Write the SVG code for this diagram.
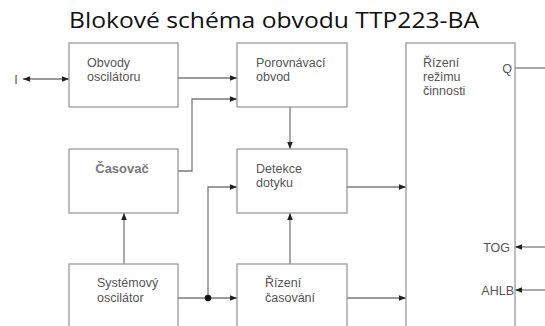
<svg xmlns="http://www.w3.org/2000/svg" width="545" height="326" viewBox="0 0 545 326">
<defs>
<style>
.box{fill:#fff;stroke:#9a9a9a;stroke-width:1.3}
.ln{fill:none;stroke:#7a7a7a;stroke-width:1.3}
.t{font-family:"Liberation Sans",Arial,sans-serif;font-size:12.5px;fill:#555}
.title{font-family:"Open Sans","Noto Sans",sans-serif;font-size:22.5px;fill:#111}
</style>
<marker id="ar" viewBox="0 0 10 10" refX="10" refY="5" markerWidth="7" markerHeight="7" markerUnits="userSpaceOnUse" orient="auto-start-reverse">
<path d="M0,1 L10,5 L0,9 z" fill="#222"/>
</marker>
</defs>
<rect width="545" height="326" fill="#fff"/>
<text class="title" x="274" y="28" text-anchor="middle" textLength="410" lengthAdjust="spacingAndGlyphs">Blokové schéma obvodu TTP223-BA</text>

<g id="connectors">
<path class="ln" d="M23,79 H69" marker-start="url(#ar)" marker-end="url(#ar)"/>
<path class="ln" d="M178,78 H237" marker-end="url(#ar)"/>
<path class="ln" d="M178,171 H192 V99 H237" marker-end="url(#ar)"/>
<path class="ln" d="M290,107 V149" marker-end="url(#ar)"/>
<path class="ln" d="M347,187 H406" marker-end="url(#ar)"/>
<path class="ln" d="M208,298 V187 H237" marker-end="url(#ar)"/>
<path class="ln" d="M124,264 V213" marker-end="url(#ar)"/>
<path class="ln" d="M178,298 H237" marker-end="url(#ar)"/>
<path class="ln" d="M290,264 V213" marker-end="url(#ar)"/>
<path class="ln" d="M347,298 H406" marker-end="url(#ar)"/>
<path class="ln" d="M515,68 H545"/>
<path class="ln" d="M545,247 H515" marker-end="url(#ar)"/>
<path class="ln" d="M545,290 H515" marker-end="url(#ar)"/>
<circle cx="208" cy="298" r="3.2" fill="#111"/>
</g>

<g id="io-I">
<text class="t" x="16" y="84" text-anchor="middle">I</text>
</g>

<g id="obvody-oscilatoru">
<rect class="box" x="69" y="43" width="109" height="64"/>
<text class="t" x="87" y="67">Obvody</text>
<text class="t" x="87" y="81">oscilátoru</text>
</g>

<g id="porovnavaci-obvod">
<rect class="box" x="237" y="43" width="110" height="64"/>
<text class="t" x="256" y="67">Porovnávací</text>
<text class="t" x="256" y="81">obvod</text>
</g>

<g id="rizeni-rezimu">
<rect class="box" x="406" y="43" width="109" height="290"/>
<text class="t" x="423" y="67">Řízení</text>
<text class="t" x="423" y="81">režimu</text>
<text class="t" x="423" y="95">činnosti</text>
<text class="t" x="512" y="73" text-anchor="end">Q</text>
<text class="t" x="510" y="252" text-anchor="end">TOG</text>
<text class="t" x="514" y="295" text-anchor="end">AHLB</text>
</g>

<g id="casovac">
<rect class="box" x="69" y="149" width="109" height="64"/>
<text class="t" x="122" y="173" text-anchor="middle" style="font-size:13px;font-weight:bold;fill:#7a7a7a">Časovač</text>
</g>

<g id="detekce-dotyku">
<rect class="box" x="237" y="149" width="110" height="64"/>
<text class="t" x="256" y="173">Detekce</text>
<text class="t" x="256" y="187">dotyku</text>
</g>

<g id="systemovy-oscilator">
<rect class="box" x="69" y="264" width="109" height="70"/>
<text class="t" x="97" y="287">Systémový</text>
<text class="t" x="97" y="302">oscilátor</text>
</g>

<g id="rizeni-casovani">
<rect class="box" x="237" y="264" width="110" height="70"/>
<text class="t" x="265" y="287">Řízení</text>
<text class="t" x="265" y="302">časování</text>
</g>
</svg>
